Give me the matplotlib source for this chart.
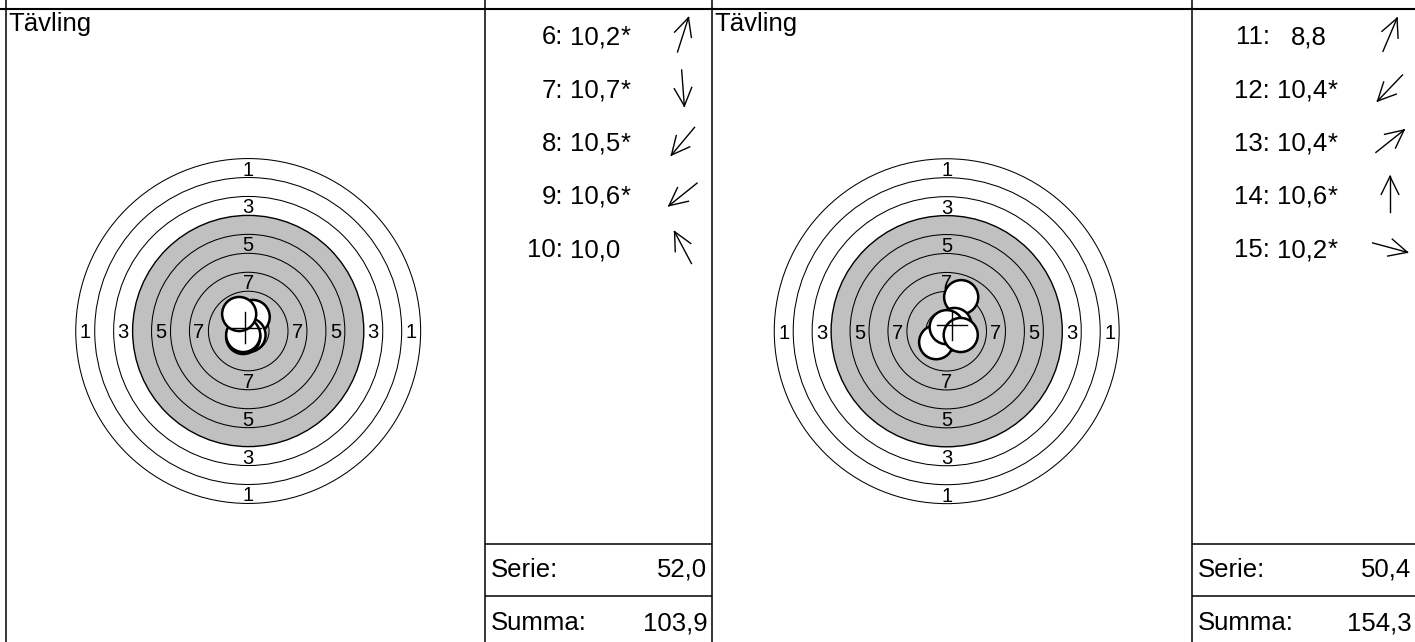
import matplotlib
matplotlib.use("Agg")
import matplotlib.pyplot as plt
import numpy as np
from matplotlib.patches import Circle

# ---------------- data ----------------
title_text = "Tävling"
serie_label = "Serie:"
summa_label = "Summa:"
previous_total = 51.9

shot_numbers_1 = [6, 7, 8, 9, 10]
scores_1 = [10.2, 10.7, 10.5, 10.6, 10.0]
inner_ten_1 = [True, True, True, True, False]
shot_x_1 = [0.59, 0.04, -0.66, -0.66, -1.19]   # mm from target centre
shot_y_1 = [1.85, -0.53, -0.79, -0.53, 2.24]

shot_numbers_2 = [11, 12, 13, 14, 15]
scores_2 = [8.8, 10.4, 10.4, 10.6, 10.2]
inner_ten_2 = [False, True, True, True, True]
shot_x_2 = [1.91, -1.39, 1.03, 0.00, 1.85]
shot_y_2 = [4.49, -1.45, 0.82, 0.53, -0.50]

ring_values = [1, 2, 3, 4, 5, 6, 7, 8, 9, 10]
ring_radii = [22.75, 20.25, 17.75, 15.25, 12.75, 10.25, 7.75, 5.25, 2.75, 0.25]  # mm
labelled_rings = [1, 3, 5, 7]
black_from_ring = 4
pellet_radius = 2.25  # mm

# ---------------- layout ----------------
W, H = 1415, 642
FONT = "Liberation Sans"
plt.rcParams["font.family"] = [FONT, "DejaVu Sans"]
GRAY = "#c0c0c0"

fig = plt.figure(figsize=(W / 100, H / 100), dpi=100)
frame = fig.add_axes([0, 0, 1, 1])
frame.set_xlim(0, W)
frame.set_ylim(H, 0)
frame.axis("off")

LW = 1.1
# grid of the score sheet
top_y = 9
frame.plot([0, W], [top_y, top_y], color="black", lw=1.5, solid_capstyle="butt")
for xv in [6, 485, 712, 1192]:
    frame.plot([xv, xv], [0, H], color="black", lw=LW, solid_capstyle="butt")
for (xa, xb) in [(485, 712), (1192, W)]:
    for yv in [543.5, 595.5]:
        frame.plot([xa, xb], [yv, yv], color="black", lw=LW, solid_capstyle="butt")

px_per_mm = 7.58
R_mm = 24.0
R_px = R_mm * px_per_mm

panels = [
    dict(left=6, info=485, centre=(248.2, 331.0), nums=shot_numbers_1, scores=scores_1,
         inner=inner_ten_1, xs=shot_x_1, ys=shot_y_1, val_right=222.5),
    dict(left=712, info=1192, centre=(946.7, 331.2), nums=shot_numbers_2, scores=scores_2,
         inner=inner_ten_2, xs=shot_x_2, ys=shot_y_2, val_right=219.5),
]


def fmt(v):
    return f"{v:.1f}".replace(".", ",")


running = previous_total
FS = 18.5
for p in panels:
    # title
    frame.text(p["left"] + 2, 31, title_text, fontsize=FS, ha="left", va="baseline")

    # target
    cx, cy = p["centre"]
    ax = fig.add_axes([(cx - R_px) / W, (H - cy - R_px) / H, 2 * R_px / W, 2 * R_px / H])
    ax.set_xlim(-R_mm, R_mm)
    ax.set_ylim(-R_mm, R_mm)
    ax.axis("off")
    for val, r in zip(ring_values, ring_radii):
        if val < black_from_ring:
            ax.add_patch(Circle((0, 0), r, facecolor="white", edgecolor="black", lw=0.75))
        elif val == black_from_ring:
            ax.add_patch(Circle((0, 0), r, facecolor=GRAY, edgecolor="black", lw=1.0))
        else:
            ax.add_patch(Circle((0, 0), r, facecolor="none", edgecolor="black", lw=0.75))
    for val in labelled_rings:
        i = ring_values.index(val)
        rm = (ring_radii[i] + ring_radii[i + 1]) / 2
        for (dx, dy) in [(0, 1), (0, -1), (1, 0), (-1, 0)]:
            ax.text(dx * rm, dy * rm, str(val), fontsize=14.5, ha="center", va="center_baseline")
    for x, y in zip(p["xs"], p["ys"]):
        ax.add_patch(Circle((x, y), pellet_radius, facecolor="white", edgecolor="black",
                            lw=1.8, zorder=5))
    mx, my = np.mean(p["xs"]), np.mean(p["ys"])
    ax.plot([mx - 2, mx + 2], [my, my], color="black", lw=1.0, zorder=6)
    ax.plot([mx, mx], [my - 2, my + 2], color="black", lw=1.0, zorder=6)

    # shot list
    x0 = p["info"]
    for k, (n, s, star, x, y) in enumerate(zip(p["nums"], p["scores"], p["inner"], p["xs"], p["ys"])):
        base = 44.3 + 53.2 * k
        frame.text(x0 + 78, base, f"{n}:", fontsize=FS, ha="right", va="baseline")
        frame.text(x0 + 135, base, fmt(s), fontsize=FS, ha="right", va="baseline")
        if star:
            frame.text(x0 + 135.5, base, "*", fontsize=FS, ha="left", va="baseline")
        # direction arrow
        th = np.arctan2(y, x)
        u = np.array([np.cos(th), -np.sin(th)])
        c = np.array([x0 + 198, base - 9.5])
        L = 36
        a, b = c - u * L / 2, c + u * L / 2
        frame.plot([a[0], b[0]], [a[1], b[1]], color="black", lw=1.0)
        for sgn in (1, -1):
            ang = sgn * np.radians(26)
            rot = np.array([[np.cos(ang), -np.sin(ang)], [np.sin(ang), np.cos(ang)]])
            h = b - rot @ u * 20
            frame.plot([b[0], h[0]], [b[1], h[1]], color="black", lw=1.0)

    serie = sum(p["scores"])
    running += serie
    frame.text(x0 + 6, 576.7, serie_label, fontsize=FS, ha="left", va="baseline")
    frame.text(x0 + p["val_right"], 576.7, fmt(serie), fontsize=FS, ha="right", va="baseline")
    frame.text(x0 + 6, 630, summa_label, fontsize=FS, ha="left", va="baseline")
    frame.text(x0 + p["val_right"], 630, fmt(running), fontsize=FS, ha="right", va="baseline")

fig.savefig("out.png", dpi=100)
